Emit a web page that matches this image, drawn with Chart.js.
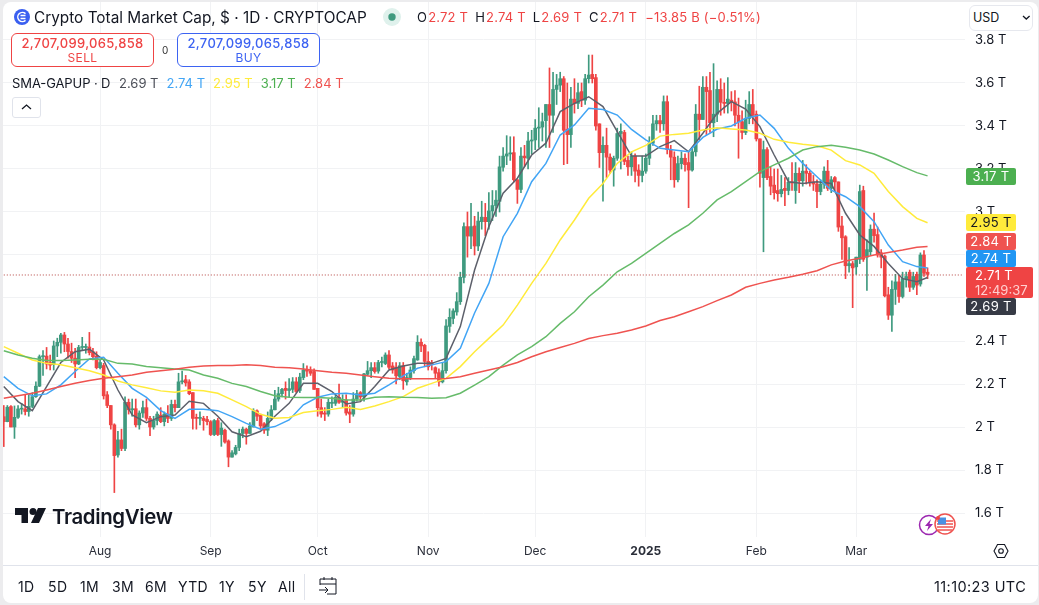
<!DOCTYPE html>
<html>
<head>
<meta charset="utf-8">
<title>Crypto Total Market Cap</title>
<script src="https://cdn.jsdelivr.net/npm/chart.js@4"></script>
<style>
html,body{margin:0;padding:0;width:1039px;height:605px;overflow:hidden;background:#fff;font-family:Inter,"Noto Sans",sans-serif;color:#131722}
canvas{position:absolute;left:0;top:0}
.a{position:absolute;white-space:nowrap}
.frame{position:absolute;left:3px;top:2px;right:1px;bottom:2px;border-radius:8px;box-shadow:0 0 0 20px #ececee;pointer-events:none}
.tradebox{position:absolute;top:33px;width:141px;border:1px solid;border-radius:6px;background:#fff;text-align:center;font-size:13px;font-weight:500;line-height:15px;padding-top:2px;box-sizing:content-box;height:30px;letter-spacing:.3px}
.tradebox small{display:block;font-size:12px;font-weight:400;line-height:14px;letter-spacing:.4px}
.pl{position:absolute;left:966px;width:50px;height:17px;line-height:17px;font-size:13px;text-align:center;color:#fff;border-radius:2px;letter-spacing:.3px}
.rng{position:absolute;top:578px;font-size:14px;line-height:17px;color:#131722;letter-spacing:.4px}
#ohlc span{color:#ef4444;margin-left:1px;margin-right:7px}
#smaRow span{display:inline-block;margin-left:8px}
</style>
</head>
<body>
<canvas id="c" width="1039" height="605"></canvas>

<!-- header -->
<svg class="a" style="left:14px;top:9px" width="16" height="16" viewBox="0 0 16 16"><circle cx="8" cy="8" r="8" fill="#3a5ff0"/><path d="M11.5 4.6A4.6 4.6 0 1 0 11.5 11.4" fill="none" stroke="#fff" stroke-width="1.5"/><path d="M6.5 6.5h5M6.5 9.5h5" stroke="#fff" stroke-width="1.3"/></svg>
<div class="a" style="left:34px;top:8px;font-size:15.35px;line-height:19px">Crypto Total Market Cap, $ · 1D · CRYPTOCAP</div>
<svg class="a" style="left:383px;top:8px" width="18" height="18"><circle cx="9" cy="9" r="9" fill="#dff1ec"/><circle cx="9" cy="9" r="3.7" fill="#3f9a7f"/></svg>
<div class="a" id="ohlc" style="left:417px;top:9px;font-size:13px;line-height:17px;letter-spacing:.2px"></div>
<div class="tradebox" style="left:11px;color:#ef4444;border-color:#ef4444"><span id="sellv"></span><small>SELL</small></div>
<div class="a" style="left:162px;top:44px;font-size:10px;line-height:12px;color:#333">0</div>
<div class="tradebox" style="left:177px;color:#3d63f2;border-color:#3d63f2"><span id="buyv"></span><small>BUY</small></div>
<div class="a" id="smaRow" style="left:12px;top:75px;font-size:13px;line-height:17px"></div>
<div class="a" style="left:12px;top:97px;width:27px;height:19px;border:1px solid #e0e3eb;border-radius:3px"></div>
<svg class="a" style="left:21px;top:103px" width="11" height="8"><path d="M1 6l4.5-4 4.5 4" fill="none" stroke="#131722" stroke-width="1.3"/></svg>
<div class="a" style="left:969px;top:5px;width:62px;height:24px;border:1px solid #e6e8ee;border-radius:6px;background:#fff"></div>
<div class="a" style="left:973px;top:9px;font-size:12.5px;line-height:17px">USD</div>
<svg class="a" style="left:1022px;top:15px" width="9" height="6"><path d="M1 1l3.3 3 3.3-3" fill="none" stroke="#131722" stroke-width="1.3"/></svg>

<!-- price labels -->
<div class="pl" id="pGreen" style="top:168px;background:#4caf50"></div>
<div class="pl" id="pYellow" style="top:214px;background:#ffeb3b;color:#131722"></div>
<div class="pl" id="pRed" style="top:233px;background:#ef5350"></div>
<div class="pl" id="pBlue" style="top:250px;background:#2196f3"></div>
<div class="pl" style="top:267px;width:67px;height:31px;background:#ef4444;text-align:left;padding:0;border-radius:2px"><div id="pLast" style="padding-left:9px;line-height:16px;height:16px"></div><div style="padding-left:9px;line-height:14px;color:#ffd0d0;letter-spacing:0">12:49:37</div></div>
<div class="pl" id="pBlack" style="top:298px;background:#363a45"></div>

<!-- watermark -->
<svg class="a" style="left:15px;top:508px" width="31" height="16" viewBox="0 0 31 16"><path d="M0 0h13v15H6.500V7H0z" fill="#131722"/><circle cx="18" cy="3.600" r="3.500" fill="#131722"/><path d="M23 0h8l-7 15h-8z" fill="#131722"/></svg>
<div class="a" style="left:52px;top:504px;font-size:20.4px;line-height:26px;font-weight:600;letter-spacing:-.35px;color:#131722">TradingView</div>
<svg class="a" style="left:917px;top:513px" width="40" height="24"><circle cx="12" cy="12" r="9.500" fill="#fff" stroke="#9c27b0" stroke-width="1.500"/><path d="M14 6l-6 7h3.500l-1.500 5 6-7h-3.500z" fill="#9c27b0"/><circle cx="28" cy="11" r="10" fill="#fff" stroke="#ef5350" stroke-width="1.500"/><path d="M20 8h16M20 11h16M20 14h16M21 17h14" stroke="#ef5350" stroke-width="1.500"/><rect x="21" y="4.500" width="8" height="7" fill="#4a90e2"/><circle cx="21" cy="5" r="2" fill="#ef4444"/></svg>
<svg class="a" style="left:993px;top:543px" width="16" height="16" viewBox="0 0 16 16"><path d="M4.500 1.500h7L15 8l-3.500 6.500h-7L1 8z" fill="none" stroke="#131722" stroke-width="1.100"/><circle cx="8" cy="8" r="2.300" fill="none" stroke="#131722" stroke-width="1.100"/></svg>

<!-- bottom bar -->
<div class="a" style="left:3px;right:0;top:565px;height:1px;background:#e0e3eb"></div>
<div id="ranges"></div>
<div class="a" style="left:304px;top:574px;width:1px;height:26px;background:#e0e3eb"></div>
<svg class="a" style="left:318px;top:575px" width="20" height="20" viewBox="0 0 20 20"><path d="M2 10V4h16v15H9M2 9h16M6 2v3M14 2v3M1 15h9M7 12l3 3-3 3" fill="none" stroke="#131722" stroke-width="1"/></svg>
<div class="a" style="left:934px;top:578px;font-size:14.5px;line-height:17px;letter-spacing:.4px">11:10:23 UTC</div>
<div class="frame"></div>

<script>
const monthNames = ['Jan','Feb','Mar','Apr','May','Jun','Jul','Aug','Sep','Oct','Nov','Dec'];
const firstDay = Date.UTC(2024,6,5);
const slotCount = 270;

const opens = [
2.048,2.025,2.095,2.0,2.045,2.083,2.084,2.072,2.096,2.141,
2.19,2.327,2.33,2.30,2.29,2.377,2.394,2.428,2.386,2.351,
2.32,2.293,2.37,2.37,2.372,2.35,2.33,2.276,2.286,2.15,
2.10,2.01,1.87,1.94,1.90,2.115,2.08,2.085,2.01,2.065,
2.09,2.04,2.0,2.03,2.055,2.025,2.06,2.04,2.105,2.09,
2.21,2.22,2.21,2.16,2.045,2.04,2.04,2.035,2.025,1.965,
2.03,1.965,1.985,1.935,1.86,1.875,1.905,1.97,1.99,1.97,
2.0,2.075,2.055,2.015,1.985,2.04,2.08,2.13,2.155,2.18,
2.17,2.175,2.21,2.17,2.23,2.265,2.262,2.258,2.18,2.09,
2.065,2.06,2.11,2.11,2.138,2.115,2.125,2.07,2.06,2.13,
2.16,2.14,2.245,2.262,2.276,2.26,2.30,2.295,2.335,2.284,
2.278,2.235,2.285,2.21,2.23,2.262,2.312,2.394,2.38,2.305,
2.30,2.276,2.253,2.21,2.262,2.468,2.505,2.535,2.583,2.696,
2.932,2.888,2.935,2.842,2.955,2.975,2.955,3.005,3.03,3.05,
3.208,3.26,3.27,3.276,3.15,3.105,3.26,3.25,3.33,3.335,
3.39,3.395,3.425,3.50,3.45,3.57,3.59,3.62,3.385,3.36,
3.525,3.505,3.56,3.52,3.62,3.64,3.625,3.41,3.276,3.31,
3.255,3.195,3.25,3.365,3.37,3.24,3.21,3.26,3.195,3.17,
3.19,3.25,3.32,3.41,3.425,3.41,3.513,3.29,3.255,3.15,
3.225,3.25,3.23,3.195,3.28,3.455,3.43,3.58,3.565,3.415,
3.455,3.57,3.51,3.505,3.52,3.512,3.45,3.42,3.37,3.435,
3.50,3.455,3.34,3.16,3.29,3.165,3.125,3.10,3.085,3.11,
3.10,3.14,3.10,3.18,3.145,3.19,3.18,3.14,3.13,3.095,
3.13,3.19,3.11,3.16,3.14,2.935,2.885,2.75,2.76,2.745,
2.78,3.10,2.79,2.815,2.92,2.895,2.81,2.795,2.615,2.52,
2.64,2.675,2.607,2.69,2.72,2.65,2.71,2.665,2.80,2.72];
const highs = [
2.10,2.10,2.10,2.098,2.10,2.11,2.15,2.15,2.16,2.21,
2.335,2.355,2.37,2.335,2.40,2.413,2.436,2.44,2.413,2.39,
2.366,2.38,2.417,2.386,2.44,2.366,2.35,2.31,2.296,2.165,
2.10,2.015,1.98,1.99,2.14,2.13,2.13,2.13,2.075,2.12,
2.13,2.05,2.05,2.07,2.09,2.07,2.10,2.125,2.125,2.25,
2.26,2.24,2.22,2.16,2.06,2.07,2.05,2.05,2.03,2.035,
2.04,2.02,1.99,1.94,1.89,1.915,1.99,2.0,1.995,2.02,
2.085,2.08,2.06,2.02,2.07,2.10,2.17,2.185,2.18,2.21,
2.225,2.23,2.23,2.25,2.295,2.285,2.28,2.27,2.18,2.13,
2.09,2.13,2.14,2.15,2.20,2.15,2.15,2.10,2.16,2.17,
2.165,2.25,2.305,2.30,2.30,2.31,2.325,2.345,2.355,2.30,
2.30,2.30,2.30,2.25,2.28,2.33,2.425,2.41,2.385,2.35,
2.31,2.28,2.27,2.30,2.50,2.55,2.55,2.625,2.72,2.95,
3.0,3.04,2.98,3.0,3.05,3.04,3.09,3.10,3.10,3.26,
3.30,3.355,3.35,3.35,3.15,3.30,3.31,3.37,3.38,3.43,
3.485,3.46,3.50,3.67,3.65,3.64,3.65,3.63,3.60,3.58,
3.62,3.60,3.60,3.64,3.73,3.73,3.64,3.41,3.35,3.39,
3.27,3.26,3.39,3.41,3.38,3.26,3.28,3.27,3.22,3.26,
3.27,3.35,3.45,3.45,3.45,3.54,3.54,3.31,3.28,3.26,
3.28,3.27,3.28,3.30,3.50,3.585,3.63,3.63,3.65,3.69,
3.61,3.62,3.60,3.625,3.56,3.565,3.53,3.47,3.52,3.56,
3.57,3.47,3.34,3.33,3.30,3.21,3.20,3.20,3.17,3.16,
3.16,3.23,3.23,3.205,3.24,3.22,3.19,3.17,3.15,3.15,
3.21,3.24,3.165,3.165,3.14,2.98,2.89,2.835,2.77,2.79,
3.125,3.12,2.87,2.94,2.995,2.93,2.825,2.80,2.65,2.68,
2.71,2.705,2.72,2.72,2.73,2.72,2.72,2.81,2.82,2.74];
const lows = [
1.909,2.024,2.0,1.947,2.04,2.06,2.056,2.05,2.09,2.138,
2.188,2.24,2.27,2.265,2.265,2.327,2.343,2.35,2.32,2.30,
2.23,2.29,2.355,2.343,2.335,2.312,2.27,2.27,2.13,2.09,
1.99,1.695,1.86,1.89,1.89,2.06,2.05,2.0,1.99,2.045,
2.03,1.96,1.99,2.01,2.02,2.005,2.02,2.03,2.07,2.09,
2.20,2.19,2.15,1.99,1.99,2.01,1.985,2.01,1.96,1.96,
1.96,1.91,1.925,1.815,1.86,1.87,1.89,1.95,1.92,1.97,
2.0,2.03,1.99,1.97,1.96,2.03,2.08,2.12,2.14,2.13,
2.14,2.16,2.16,2.16,2.22,2.235,2.24,2.175,2.05,2.045,
2.03,2.05,2.09,2.10,2.11,2.09,2.055,2.02,2.05,2.12,
2.12,2.12,2.24,2.23,2.25,2.25,2.28,2.29,2.27,2.25,
2.20,2.22,2.175,2.195,2.22,2.25,2.31,2.35,2.28,2.265,
2.265,2.225,2.19,2.205,2.25,2.44,2.48,2.52,2.57,2.67,
2.79,2.83,2.80,2.82,2.92,2.89,2.92,2.96,2.98,3.0,
3.19,3.22,3.24,3.14,3.04,3.09,3.21,3.20,3.27,3.29,
3.30,3.33,3.30,3.30,3.37,3.50,3.56,3.22,3.225,3.30,
3.46,3.48,3.49,3.50,3.60,3.60,3.38,3.207,3.05,3.16,
3.18,3.12,3.24,3.20,3.22,3.17,3.17,3.14,3.12,3.14,
3.18,3.22,3.31,3.38,3.37,3.38,3.27,3.15,3.115,3.14,
3.20,3.19,3.02,3.19,3.26,3.335,3.43,3.36,3.37,3.35,
3.42,3.45,3.46,3.46,3.47,3.40,3.25,3.34,3.36,3.41,
3.41,3.33,3.115,2.815,3.15,3.08,3.06,3.05,3.07,3.03,
3.08,3.10,3.04,3.09,3.12,3.13,3.12,3.10,3.02,3.08,
3.11,3.10,3.09,3.10,2.91,2.78,2.69,2.72,2.555,2.71,
2.76,2.77,2.635,2.80,2.86,2.79,2.74,2.605,2.50,2.445,
2.57,2.58,2.60,2.65,2.63,2.64,2.615,2.655,2.70,2.69];
const closes = [
2.025,2.092,2.0,2.045,2.084,2.085,2.072,2.096,2.141,2.19,
2.327,2.33,2.293,2.288,2.377,2.394,2.428,2.386,2.351,2.32,
2.293,2.37,2.372,2.37,2.346,2.327,2.276,2.30,2.145,2.10,
2.01,1.867,1.94,1.90,2.115,2.08,2.085,2.01,2.065,2.09,
2.04,2.0,2.03,2.06,2.025,2.06,2.04,2.105,2.09,2.21,
2.213,2.205,2.155,2.04,2.04,2.045,2.03,2.025,1.965,2.03,
1.965,1.995,1.93,1.86,1.88,1.905,1.97,1.99,1.97,2.005,
2.075,2.05,2.005,1.985,2.04,2.08,2.13,2.155,2.175,2.17,
2.178,2.21,2.165,2.232,2.265,2.26,2.25,2.175,2.09,2.06,
2.06,2.115,2.115,2.138,2.115,2.118,2.065,2.06,2.13,2.155,
2.14,2.247,2.262,2.276,2.258,2.30,2.302,2.335,2.278,2.265,
2.238,2.285,2.215,2.23,2.265,2.318,2.394,2.377,2.305,2.28,
2.29,2.25,2.21,2.262,2.47,2.51,2.54,2.583,2.696,2.932,
2.888,2.932,2.842,2.958,2.976,2.955,3.005,3.03,3.055,3.21,
3.26,3.27,3.275,3.15,3.105,3.26,3.252,3.33,3.335,3.39,
3.395,3.42,3.50,3.45,3.57,3.59,3.62,3.38,3.36,3.525,
3.505,3.555,3.52,3.62,3.637,3.62,3.40,3.276,3.31,3.255,
3.195,3.25,3.365,3.375,3.235,3.21,3.26,3.19,3.17,3.19,
3.25,3.32,3.41,3.425,3.41,3.513,3.29,3.255,3.15,3.225,
3.25,3.22,3.195,3.28,3.455,3.43,3.58,3.56,3.415,3.455,
3.57,3.51,3.505,3.525,3.51,3.45,3.42,3.37,3.435,3.50,
3.45,3.34,3.18,3.29,3.16,3.12,3.09,3.085,3.105,3.10,
3.138,3.135,3.18,3.145,3.19,3.18,3.14,3.13,3.095,3.13,
3.19,3.11,3.15,3.14,2.93,2.88,2.75,2.76,2.74,2.79,
3.095,2.78,2.825,2.92,2.89,2.80,2.79,2.61,2.52,2.64,
2.675,2.607,2.69,2.70,2.65,2.70,2.66,2.80,2.715,2.71];

const smaDays = [0,4,8,12,16,20,24,28,32,36,40,44,48,52,56,60,64,68,72,76,80,84,88,92,96,100,104,108,112,116,120,124,128,132,136,140,144,148,152,156,160,164,168,172,176,180,184,188,192,196,200,204,208,212,216,220,224,228,232,236,240,244,248,252,256,259];
const smaBlack = [2.188,2.118,2.076,2.188,2.30,2.35,2.362,2.312,2.172,2.056,2.02,2.048,2.056,2.12,2.11,2.05,1.978,1.955,1.98,2.05,2.11,2.203,2.203,2.165,2.107,2.118,2.188,2.265,2.284,2.296,2.296,2.319,2.467,2.73,2.932,3.087,3.157,3.265,3.32,3.467,3.505,3.536,3.49,3.374,3.26,3.26,3.304,3.332,3.28,3.366,3.459,3.513,3.479,3.397,3.265,3.141,3.133,3.141,3.133,2.994,2.893,2.84,2.76,2.69,2.676,2.695];
const smaBlue = [2.234,2.18,2.145,2.154,2.196,2.258,2.317,2.324,2.25,2.18,2.138,2.076,2.04,2.082,2.082,2.076,2.048,2.017,1.99,2.002,2.033,2.103,2.138,2.154,2.157,2.149,2.157,2.196,2.238,2.273,2.289,2.304,2.366,2.53,2.668,2.885,2.994,3.141,3.226,3.358,3.405,3.482,3.477,3.451,3.384,3.335,3.296,3.288,3.28,3.347,3.386,3.40,3.436,3.451,3.389,3.296,3.226,3.164,3.102,3.071,3.025,2.955,2.846,2.769,2.746,2.74];
const smaYellow = [2.374,2.343,2.312,2.296,2.289,2.276,2.262,2.242,2.214,2.196,2.183,2.168,2.162,2.172,2.169,2.157,2.126,2.095,2.059,2.041,2.044,2.067,2.076,2.082,2.092,2.082,2.098,2.118,2.141,2.18,2.203,2.226,2.281,2.35,2.412,2.474,2.567,2.668,2.761,2.87,2.963,3.064,3.133,3.226,3.28,3.31,3.353,3.361,3.366,3.381,3.392,3.386,3.381,3.366,3.338,3.324,3.315,3.308,3.288,3.239,3.219,3.18,3.095,3.025,2.97,2.95];
const smaGreen = [2.355,2.335,2.32,2.309,2.309,2.312,2.315,2.315,2.296,2.293,2.281,2.276,2.27,2.265,2.242,2.227,2.203,2.188,2.165,2.145,2.138,2.137,2.137,2.134,2.126,2.126,2.138,2.141,2.138,2.137,2.134,2.136,2.157,2.195,2.234,2.288,2.335,2.374,2.42,2.482,2.536,2.606,2.66,2.722,2.761,2.808,2.854,2.90,2.94,2.994,3.056,3.095,3.141,3.188,3.219,3.25,3.288,3.304,3.31,3.301,3.288,3.27,3.242,3.211,3.183,3.168];
const smaRed = [2.134,2.145,2.157,2.172,2.188,2.203,2.216,2.227,2.234,2.242,2.255,2.262,2.269,2.278,2.284,2.286,2.286,2.289,2.286,2.278,2.276,2.27,2.262,2.255,2.25,2.242,2.234,2.227,2.224,2.224,2.224,2.226,2.234,2.25,2.265,2.28,2.30,2.327,2.35,2.37,2.389,2.412,2.425,2.436,2.451,2.47,2.495,2.513,2.536,2.56,2.588,2.614,2.65,2.668,2.684,2.696,2.71,2.727,2.754,2.772,2.785,2.80,2.812,2.823,2.836,2.84];
const lastPrice = 2.707;

const upColor = '#3f9a7f', downColor = '#ef4444';
const dayLabels = [];
for (let i = 0; i < slotCount; i++) {
  dayLabels.push(new Date(firstDay + i * 864e5).toISOString().slice(0, 10));
}
const monthOf = s => { const p = s.split('-'); return p[2] === '01' ? (p[1] === '01' ? p[0] : monthNames[+p[1]-1]) : ''; };
const candleColors = closes.map((c, i) => c >= opens[i] ? upColor : downColor);
const smaPts = vals => smaDays.map((d, j) => ({x: dayLabels[d], y: vals[j]}));
const line = (label, data, color) => ({type:'line', label, data: smaPts(data), borderColor: color, borderWidth: 1.5, pointRadius: 0, tension: 0, order: 1});
const fmtT = v => v.toFixed(2) + ' T';
const noPad = s => { s.paddingTop = 0; s.paddingBottom = 0; s.paddingLeft = 0; s.paddingRight = 0; };

new Chart(document.getElementById('c'), {
  data: {
    labels: dayLabels,
    datasets: [
      {type:'bar', label:'wick', data: lows.map((l,i)=>[l,highs[i]]), backgroundColor: candleColors, barThickness: 1, grouped:false, order: 11},
      {type:'bar', label:'body', data: opens.map((o,i)=>[o,closes[i]]), backgroundColor: candleColors, barThickness: 3, minBarLength: 1, grouped:false, order: 10},
      line('SMA red', smaRed, '#ef5350'),
      line('SMA green', smaGreen, '#66bb6a'),
      line('SMA yellow', smaYellow, '#ffeb3b'),
      line('SMA blue', smaBlue, '#42a5f5'),
      line('SMA black', smaBlack, '#5d606b'),
      {type:'line', label:'last', data:[{x:dayLabels[0],y:lastPrice},{x:dayLabels[slotCount-1],y:lastPrice}], borderColor:'#b5413f', borderWidth:1, borderDash:[1,2], pointRadius:0, order:2}
    ]
  },
  options: {
    responsive: false,
    animation: false,
    events: [],
    layout: {padding: {left: 2, top: 2, right: 0, bottom: 40}},
    font: {family: 'Inter'},
    plugins: {legend: {display: false}, tooltip: {enabled: false}},
    scales: {
      x: {
        type: 'category',
        offset: true,
        afterFit: s => { s.height = 28; noPad(s); },
        afterBuildTicks: s => { s.ticks = s.ticks.filter(t => monthOf(dayLabels[t.value]) !== ''); },
        grid: {color: '#f1f2f4', drawTicks: false, tickLength: 0, offset: false},
        border: {display: false},
        ticks: {
          autoSkip: false, maxRotation: 0, padding: 7, color: '#2a2e39',
          font: c => ({family: 'Inter', size: 12, weight: c.tick && c.tick.label === '2025' ? '700' : '400'}),
          callback: function (v) { return monthOf(dayLabels[v]); }
        }
      },
      y: {
        type: 'linear',
        position: 'right',
        min: 1.4884, max: 3.9767,
        afterFit: s => { s.width = 74; noPad(s); },
        grid: {color: '#f1f2f4', drawTicks: false, tickLength: 0},
        border: {display: false},
        ticks: {
          stepSize: 0.2, includeBounds: false, crossAlign: 'near', padding: 10, color: '#131722',
          font: {family: 'Inter', size: 13},
          callback: v => (+v.toFixed(1)).toString() + ' T'
        }
      }
    }
  }
});

/* header and label text */
const last = closes.length - 1;
const redTxt = s => '<span>' + s + '</span>';
document.getElementById('ohlc').innerHTML =
  'O' + redTxt(fmtT(opens[last])) + 'H' + redTxt(fmtT(highs[last])) + 'L' + redTxt(fmtT(lows[last])) +
  'C' + redTxt(fmtT(closes[last])) + redTxt('−13.85 B (−0.51%)');
document.getElementById('sellv').textContent = '2,707,099,065,858';
document.getElementById('buyv').textContent = '2,707,099,065,858';
const sp = (c, v) => '<span style="color:' + c + '">' + v + ' T</span>';
document.getElementById('smaRow').innerHTML = '<i style="font-style:normal;display:inline-block;width:99px;letter-spacing:-.1px">SMA-GAPUP · D</i>' +
  sp('#4c4f58', '2.69') + sp('#42a5f5', '2.74') + sp('#ffeb3b', '2.95') + sp('#4caf50', '3.17') + sp('#ef5350', '2.84');
document.getElementById('pGreen').textContent = '3.17 T';
document.getElementById('pYellow').textContent = '2.95 T';
document.getElementById('pRed').textContent = '2.84 T';
document.getElementById('pBlue').textContent = '2.74 T';
document.getElementById('pBlack').textContent = '2.69 T';
document.getElementById('pLast').textContent = '2.71 T';
const rangeLabels = ['1D','5D','1M','3M','6M','YTD','1Y','5Y','All'];
const rangeX = [18,48,80,112,145,178,219,248,278];
document.getElementById('ranges').innerHTML = rangeLabels.map((t,i)=>'<div class="rng" style="left:'+rangeX[i]+'px">'+t+'</div>').join('');
</script>
</body>
</html>
